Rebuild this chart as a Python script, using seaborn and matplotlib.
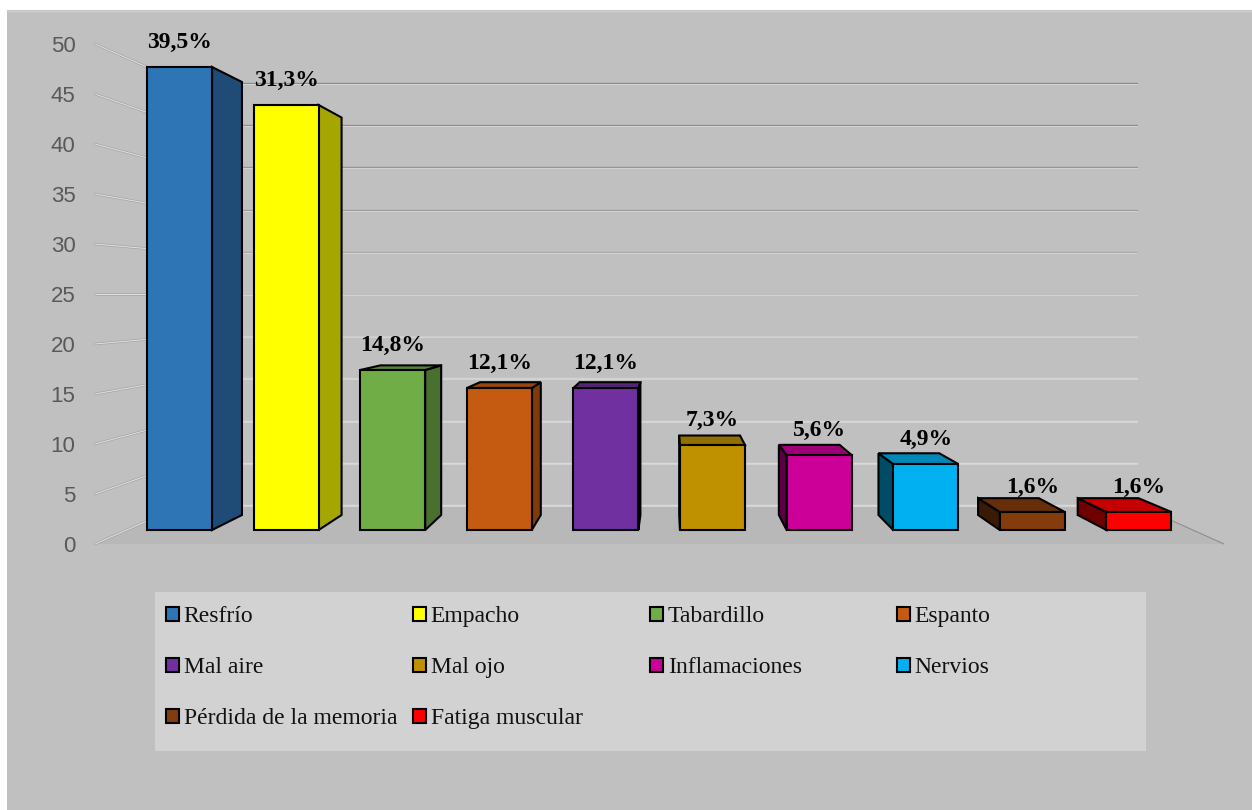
import matplotlib
matplotlib.use("Agg")
import matplotlib.pyplot as plt
from matplotlib.patches import Patch, Polygon, Rectangle
import seaborn as sns

categories = ["Resfrío", "Empacho", "Tabardillo", "Espanto", "Mal aire",
              "Mal ojo", "Inflamaciones", "Nervios", "Pérdida de la memoria", "Fatiga muscular"]
values = [46.3, 42.5, 16.0, 14.2, 14.2, 8.5, 7.5, 6.6, 1.8, 1.8]
pct_labels = ["39,5%", "31,3%", "14,8%", "12,1%", "12,1%", "7,3%", "5,6%", "4,9%", "1,6%", "1,6%"]
bar_colors = ["#2E75B6", "#FFFF00", "#70AD47", "#C55A11", "#7030A0",
              "#BF9000", "#CC0099", "#00B0F0", "#843C0C", "#FF0000"]
y_ticks = [0, 5, 10, 15, 20, 25, 30, 35, 40, 45, 50]
grid_dark = ["#DADADA", "#DADADA", "#D8D8D8", "#D4D4D4", "#CCCCCC", "#BDBDBD",
             "#A8A8A8", "#9A9A9A", "#929292", "#8C8C8C", "#888888"]
legend_cols = [[0, 4, 8], [1, 5, 9], [2, 6], [3, 7]]
legend_col_px = [166, 413, 650, 897]

W, H = 1252, 810

sns.set_style("white")
plt.rcParams["font.family"] = ["Liberation Serif", "DejaVu Serif"]

fig = plt.figure(figsize=(W / 100, H / 100), dpi=100)
fig.patch.set_facecolor("white")

# panel behind everything
fig.add_artist(Rectangle((7 / W, 0), 1, (H - 10) / H, transform=fig.transFigure,
                         facecolor="#C0C0C0", edgecolor="none", zorder=-1))
fig.add_artist(plt.Line2D([7 / W, 1], [(H - 10.5) / H] * 2, color="#D0D0D0", lw=1, zorder=-1))

# wall and floor, with the real value axis
wall = fig.add_axes([95 / W, (H - 544) / H, 1129 / W, 500 / H])
wall.set_xlim(0, 1)
wall.set_ylim(0, 50)
wall.patch.set_visible(False)
wall.set_xticks([])
wall.set_yticks(y_ticks)
wall.tick_params(axis="y", length=0, pad=14, labelsize=16, labelcolor="#595959")
for lab in wall.get_yticklabels():
    lab.set_fontfamily("Liberation Sans")
sns.despine(ax=wall, left=True, bottom=True)

back_left, back_right = 0.078, 0.923


def back_y(v):
    return 3.9 + 0.844 * v


wall.add_patch(Polygon([(0, 0), (back_left, back_y(0)), (back_right, back_y(0)), (1, 0)],
                       facecolor="#B8B8B8", edgecolor="none", clip_on=False))
for v, dark in zip(y_ticks, grid_dark):
    wall.plot([0, back_left], [v, back_y(v)], color="#A6A6A6", lw=1.8, clip_on=False)
    wall.plot([0, back_left], [v, back_y(v)], color="#E2E2E2", lw=0.7, clip_on=False)
    wall.plot([back_left, back_right], [back_y(v)] * 2, color=dark, lw=1, clip_on=False)
    wall.plot([back_left, back_right], [back_y(v) - 0.1] * 2, color="#D2D2D2", lw=0.8, clip_on=False)
wall.plot([1, back_right], [0, back_y(0)], color="#8E8E8E", lw=0.8, clip_on=False)

# bars
ax = fig.add_axes([0, 0, 1, 1])
sns.barplot(x=categories, y=values, hue=categories, palette=bar_colors, legend=False,
            width=0.61, saturation=1, edgecolor="black", linewidth=1.5, ax=ax)
ax.set_xlim(-179.5 / 106.6, (W - 179.5) / 106.6)
ax.set_ylim(-28, 53)
ax.axis("off")

# fake 3D depth, everything shrinks towards one vanishing point
vx, vy = 4.59, 23.15
kx, ky = 0.0656, 0.0648


def to_back(x, y):
    return x + kx * (vx - x), y + ky * (vy - y)


def shade(color, f):
    r, g, b = matplotlib.colors.to_rgb(color)
    return (r * f, g * f, b * f)


for bar, color, label in zip(ax.patches, bar_colors, pct_labels):
    bar.set_joinstyle("miter")
    x0, x1 = bar.get_x(), bar.get_x() + bar.get_width()
    top = bar.get_height()
    face = dict(edgecolor="black", linewidth=1.5, joinstyle="miter", zorder=0.5)
    if x1 < vx:
        ax.add_patch(Polygon([(x1, 0), (x1, top), to_back(x1, top), to_back(x1, 0)],
                             facecolor=shade(color, 0.65), **face))
    if x0 > vx:
        ax.add_patch(Polygon([(x0, 0), (x0, top), to_back(x0, top), to_back(x0, 0)],
                             facecolor=shade(color, 0.43), **face))
    if top < vy:
        ax.add_patch(Polygon([(x0, top), (x1, top), to_back(x1, top), to_back(x0, top)],
                             facecolor=shade(color, 0.77), **face))
    ax.annotate(label, (x0 + bar.get_width() / 2, top), xytext=(0, 17.6),
                textcoords="offset points", ha="center", va="center",
                fontsize=17, fontweight="bold", color="black", zorder=5)

# legend box, one legend per column since the column spacing is uneven
fig.add_artist(Rectangle((155 / W, (H - 751) / H), 991 / W, 159 / H, transform=fig.transFigure,
                         facecolor="#D2D2D2", edgecolor="none", zorder=2))
for col, px in zip(legend_cols, legend_col_px):
    handles = [Patch(facecolor=bar_colors[i], edgecolor="black", linewidth=1.5,
                     label=categories[i]) for i in col]
    fig.legend(handles=handles, loc="upper left", bbox_to_anchor=(px / W, (H - 606) / H),
               frameon=False, fontsize=17, labelcolor="#111111", borderpad=0, borderaxespad=0,
               handlelength=0.55, handleheight=0.55, handletextpad=0.2, labelspacing=1.28)

fig.savefig("out.png", dpi=100)
